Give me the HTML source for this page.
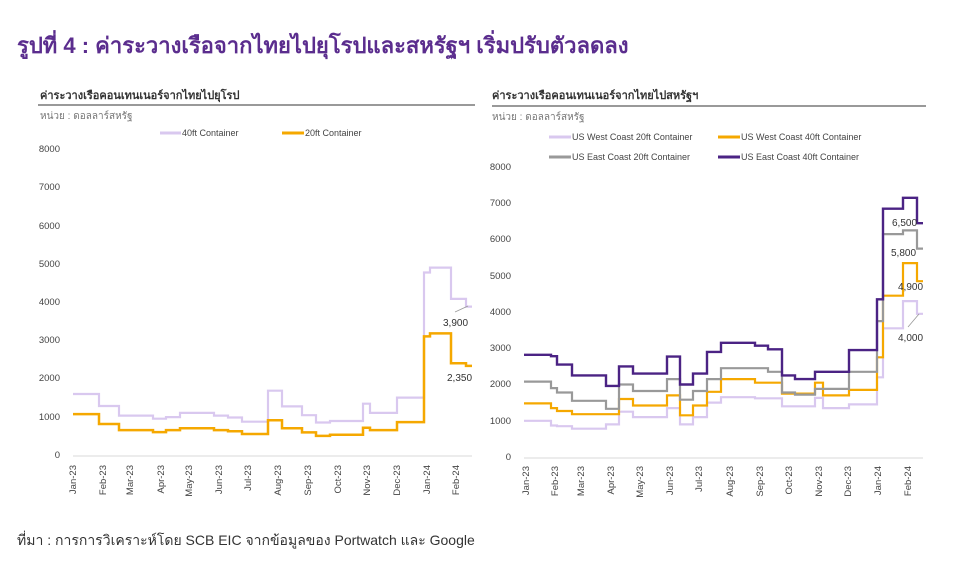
<!DOCTYPE html>
<html><head><meta charset="utf-8"><style>
html,body{margin:0;padding:0;background:#fff;}
body{width:955px;height:569px;overflow:hidden;position:relative;font-family:"Liberation Sans","DejaVu Sans",sans-serif;}
svg{position:absolute;left:0;top:0;}
</style></head><body>
<svg width="955" height="569" viewBox="0 0 955 569" font-family="Liberation Sans, DejaVu Sans, sans-serif">
<text x="17" y="53" font-size="22" font-weight="bold" fill="#5b2d8e">รูปที่ 4 : ค่าระวางเรือจากไทยไปยุโรปและสหรัฐฯ เริ่มปรับตัวลดลง</text>

<!-- Left chart -->
<text x="40" y="99" font-size="11" font-weight="bold" fill="#333">ค่าระวางเรือคอนเทนเนอร์จากไทยไปยุโรป</text>
<line x1="38" y1="105" x2="475" y2="105" stroke="#333" stroke-width="1"/>
<text x="40" y="119" font-size="10" fill="#777">หน่วย : ดอลลาร์สหรัฐ</text>
<line x1="160" y1="133" x2="181" y2="133" stroke="#d9c8ef" stroke-width="3"/>
<text x="182" y="136" font-size="9" fill="#444">40ft Container</text>
<line x1="282" y1="133" x2="304" y2="133" stroke="#f5a800" stroke-width="3"/>
<text x="305" y="136" font-size="9" fill="#444">20ft Container</text>
<g font-size="9.5" fill="#444" text-anchor="end">
<text x="60" y="152">8000</text><text x="60" y="190">7000</text><text x="60" y="229">6000</text><text x="60" y="267">5000</text><text x="60" y="305">4000</text><text x="60" y="343">3000</text><text x="60" y="381">2000</text><text x="60" y="420">1000</text><text x="60" y="458">0</text>
</g>
<line x1="73" y1="456" x2="472" y2="456" stroke="#d9d9d9" stroke-width="1"/>
<g font-size="9.5" fill="#444" text-anchor="end">
<text transform="translate(76,465) rotate(-90)">Jan-23</text>
<text transform="translate(106,465) rotate(-90)">Feb-23</text>
<text transform="translate(133,465) rotate(-90)">Mar-23</text>
<text transform="translate(164,465) rotate(-90)">Apr-23</text>
<text transform="translate(192,465) rotate(-90)">May-23</text>
<text transform="translate(222,465) rotate(-90)">Jun-23</text>
<text transform="translate(251,465) rotate(-90)">Jul-23</text>
<text transform="translate(281,465) rotate(-90)">Aug-23</text>
<text transform="translate(311,465) rotate(-90)">Sep-23</text>
<text transform="translate(341,465) rotate(-90)">Oct-23</text>
<text transform="translate(370,465) rotate(-90)">Nov-23</text>
<text transform="translate(400,465) rotate(-90)">Dec-23</text>
<text transform="translate(430,465) rotate(-90)">Jan-24</text>
<text transform="translate(459,465) rotate(-90)">Feb-24</text>
</g>
<path id="l40" fill="none" stroke="#d9c8ef" stroke-width="2.2"/>
<path id="l20" fill="none" stroke="#f5a800" stroke-width="2.5"/>
<line x1="455" y1="312" x2="468" y2="306" stroke="#999" stroke-width="0.8"/>
<text x="443" y="326" font-size="10" fill="#333">3,900</text>
<text x="447" y="381" font-size="10" fill="#333">2,350</text>

<!-- Right chart -->
<text x="492" y="99" font-size="11" font-weight="bold" fill="#333">ค่าระวางเรือคอนเทนเนอร์จากไทยไปสหรัฐฯ</text>
<line x1="492" y1="106" x2="926" y2="106" stroke="#333" stroke-width="1"/>
<text x="492" y="120" font-size="10" fill="#777">หน่วย : ดอลลาร์สหรัฐ</text>
<line x1="549" y1="137" x2="571" y2="137" stroke="#d9c8ef" stroke-width="3"/>
<text x="572" y="140" font-size="9" fill="#444">US West Coast 20ft Container</text>
<line x1="718" y1="137" x2="740" y2="137" stroke="#f5a800" stroke-width="3"/>
<text x="741" y="140" font-size="9" fill="#444">US West Coast 40ft Container</text>
<line x1="549" y1="157" x2="571" y2="157" stroke="#999" stroke-width="3"/>
<text x="572" y="160" font-size="9" fill="#444">US East Coast 20ft Container</text>
<line x1="718" y1="157" x2="740" y2="157" stroke="#4b2384" stroke-width="3"/>
<text x="741" y="160" font-size="9" fill="#444">US East Coast 40ft Container</text>
<g font-size="9.5" fill="#444" text-anchor="end">
<text x="511" y="170">8000</text><text x="511" y="206">7000</text><text x="511" y="242">6000</text><text x="511" y="279">5000</text><text x="511" y="315">4000</text><text x="511" y="351">3000</text><text x="511" y="387">2000</text><text x="511" y="424">1000</text><text x="511" y="460">0</text>
</g>
<line x1="524" y1="458" x2="923" y2="458" stroke="#d9d9d9" stroke-width="1"/>
<g font-size="9.5" fill="#444" text-anchor="end">
<text transform="translate(529,466) rotate(-90)">Jan-23</text>
<text transform="translate(558,466) rotate(-90)">Feb-23</text>
<text transform="translate(584,466) rotate(-90)">Mar-23</text>
<text transform="translate(614,466) rotate(-90)">Apr-23</text>
<text transform="translate(643,466) rotate(-90)">May-23</text>
<text transform="translate(673,466) rotate(-90)">Jun-23</text>
<text transform="translate(702,466) rotate(-90)">Jul-23</text>
<text transform="translate(733,466) rotate(-90)">Aug-23</text>
<text transform="translate(763,466) rotate(-90)">Sep-23</text>
<text transform="translate(792,466) rotate(-90)">Oct-23</text>
<text transform="translate(822,466) rotate(-90)">Nov-23</text>
<text transform="translate(851,466) rotate(-90)">Dec-23</text>
<text transform="translate(881,466) rotate(-90)">Jan-24</text>
<text transform="translate(911,466) rotate(-90)">Feb-24</text>
</g>
<path id="w20" fill="none" stroke="#d9c8ef" stroke-width="2.2"/>
<path id="w40" fill="none" stroke="#f5a800" stroke-width="2.2"/>
<path id="e20" fill="none" stroke="#999" stroke-width="2.2"/>
<path id="e40" fill="none" stroke="#4b2384" stroke-width="2.4"/>
<line x1="908" y1="327" x2="919" y2="314" stroke="#999" stroke-width="0.8"/>
<text x="892" y="226" font-size="10" fill="#333">6,500</text>
<text x="891" y="256" font-size="10" fill="#333">5,800</text>
<text x="898" y="290" font-size="10" fill="#333">4,900</text>
<text x="898" y="341" font-size="10" fill="#333">4,000</text>

<text x="17" y="545" font-size="14" fill="#333">ที่มา : การการวิเคราะห์โดย SCB EIC จากข้อมูลของ Portwatch และ Google</text>
</svg>
<script>
function step(id,x0,y0,k,arr){
  var d='M'+x0+' '+(y0-arr[0][0]*k).toFixed(1);
  for(var i=0;i<arr.length;i++){
    var y=(y0-arr[i][0]*k).toFixed(1);
    if(i>0)d+=' V'+y;
    d+=' H'+arr[i][1];
  }
  document.getElementById(id).setAttribute('d',d);
}
var kL=0.03825,yL=455;
step('l40',73,yL,kL,[[1595,99],[1280,119],[1030,153],[950,166],[990,180],[1100,214],[1030,228],[980,242],[870,268],[1680,282],[1270,302],[1040,316],[850,330],[890,363],[1340,370],[1100,397],[1500,424],[4770,430],[4900,451],[4080,466],[3880,472]]);
step('l20',73,yL,kL,[[1070,99],[810,119],[650,153],[600,166],[650,180],[700,214],[650,228],[620,242],[550,268],[910,282],[700,302],[590,316],[500,330],[530,363],[710,370],[650,397],[860,424],[3100,430],[3180,451],[2400,466],[2330,472]]);
var kR=0.03625,yR=457;
step('e40',524,yR,kR,[[2820,551],[2780,557],[2550,572],[2250,606],[1960,619],[2500,633],[2300,667],[2770,680],[2000,693],[2300,707],[2900,721],[3150,755],[3070,768],[2970,782],[2250,795],[2150,815],[2350,849],[2950,877],[4350,883],[6850,903],[7150,917],[6450,923]]);
step('e20',524,yR,kR,[[2080,551],[1900,557],[1780,572],[1550,606],[1330,619],[2000,633],[1820,667],[2150,680],[1580,693],[1820,707],[2150,721],[2450,755],[2450,768],[2350,782],[1780,795],[1720,815],[1880,849],[2350,877],[3750,883],[6150,903],[6250,917],[5750,923]]);
step('w40',524,yR,kR,[[1480,551],[1350,557],[1270,572],[1180,619],[1600,633],[1420,667],[1700,680],[1150,693],[1420,707],[1800,721],[2150,755],[2050,782],[1750,815],[2050,823],[1700,849],[1850,877],[2750,883],[4450,903],[5350,917],[4850,923]]);
step('w20',524,yR,kR,[[1000,551],[870,557],[850,572],[780,606],[900,619],[1250,633],[1100,667],[1350,680],[900,693],[1100,707],[1500,721],[1650,755],[1620,782],[1400,815],[1630,823],[1350,849],[1450,877],[2200,883],[3550,903],[4300,917],[3950,923]]);
</script>
</body></html>
